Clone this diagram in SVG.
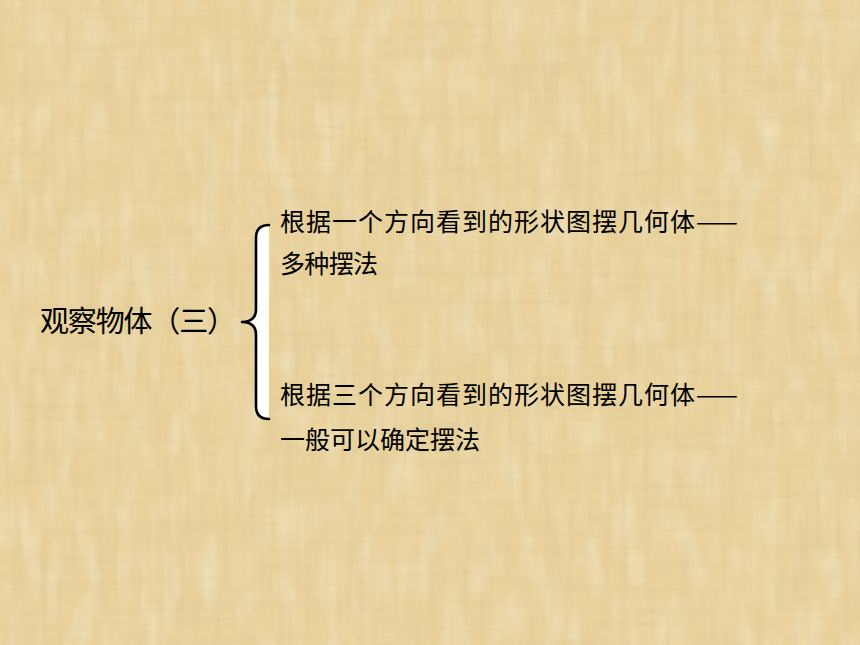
<svg xmlns="http://www.w3.org/2000/svg" width="860" height="645" viewBox="0 0 860 645">
  <defs>
    <style>
      .t { font-family: "Noto Sans CJK SC", "Noto Sans", sans-serif; fill: #000; }
      .main { font-size: 29px; }
      .sub { font-size: 25px; }
      .brace-line { fill: none; stroke: #000; stroke-width: 2.6; stroke-linecap: round; stroke-linejoin: round; }
      .brace-fill { fill: #fff; stroke: none; }
    </style>
    <filter id="vdark" x="0" y="0" width="860" height="645" filterUnits="userSpaceOnUse">
      <feTurbulence type="fractalNoise" baseFrequency="0.14 0.008" numOctaves="3" seed="4"/>
      <feColorMatrix type="matrix" values="0 0 0 0 0.66  0 0 0 0 0.53  0 0 0 0 0.28  1.5 0 0 0 -0.66"/>
    </filter>
    <filter id="hdark" x="0" y="0" width="860" height="645" filterUnits="userSpaceOnUse">
      <feTurbulence type="fractalNoise" baseFrequency="0.008 0.14" numOctaves="3" seed="9"/>
      <feColorMatrix type="matrix" values="0 0 0 0 0.66  0 0 0 0 0.53  0 0 0 0 0.28  1.5 0 0 0 -0.68"/>
    </filter>
    <filter id="light" x="0" y="0" width="860" height="645" filterUnits="userSpaceOnUse">
      <feTurbulence type="fractalNoise" baseFrequency="0.05 0.02" numOctaves="2" seed="21"/>
      <feColorMatrix type="matrix" values="0 0 0 0 1  0 0 0 0 0.96  0 0 0 0 0.86  0 1.4 0 0 -0.6"/>
    </filter>
  </defs>

  <g id="background">
    <rect x="0" y="0" width="860" height="645" fill="#E9D29C"/>
    <rect x="0" y="0" width="860" height="645" filter="url(#light)" opacity="0.5"/>
    <rect x="0" y="0" width="860" height="645" filter="url(#vdark)" opacity="0.45"/>
    <rect x="0" y="0" width="860" height="645" filter="url(#hdark)" opacity="0.35"/>
  </g>

  <g id="connectors">
    <path class="brace-fill" d="M269,225 Q256,225 256,238 L256,309 Q256,322 242,322 Q256,322 256,335 L256,406 Q256,419 269,419 Z"/>
    <path class="brace-line" d="M269,225 Q256,225 256,238 L256,309 Q256,322 242,322 Q256,322 256,335 L256,406 Q256,419 269,419"/>
  </g>

  <g id="node-root">
    <text class="t main" x="40" y="332" textLength="196" lengthAdjust="spacing">观察物体（三）</text>
  </g>

  <g id="node-one-direction">
    <text class="t sub" x="280" y="231" textLength="458" lengthAdjust="spacing">根据一个方向看到的形状图摆几何体——</text>
    <text class="t sub" x="280" y="273" textLength="98" lengthAdjust="spacing">多种摆法</text>
  </g>

  <g id="node-three-directions">
    <text class="t sub" x="280" y="404" textLength="458" lengthAdjust="spacing">根据三个方向看到的形状图摆几何体——</text>
    <text class="t sub" x="280" y="449" textLength="200" lengthAdjust="spacing">一般可以确定摆法</text>
  </g>
</svg>
